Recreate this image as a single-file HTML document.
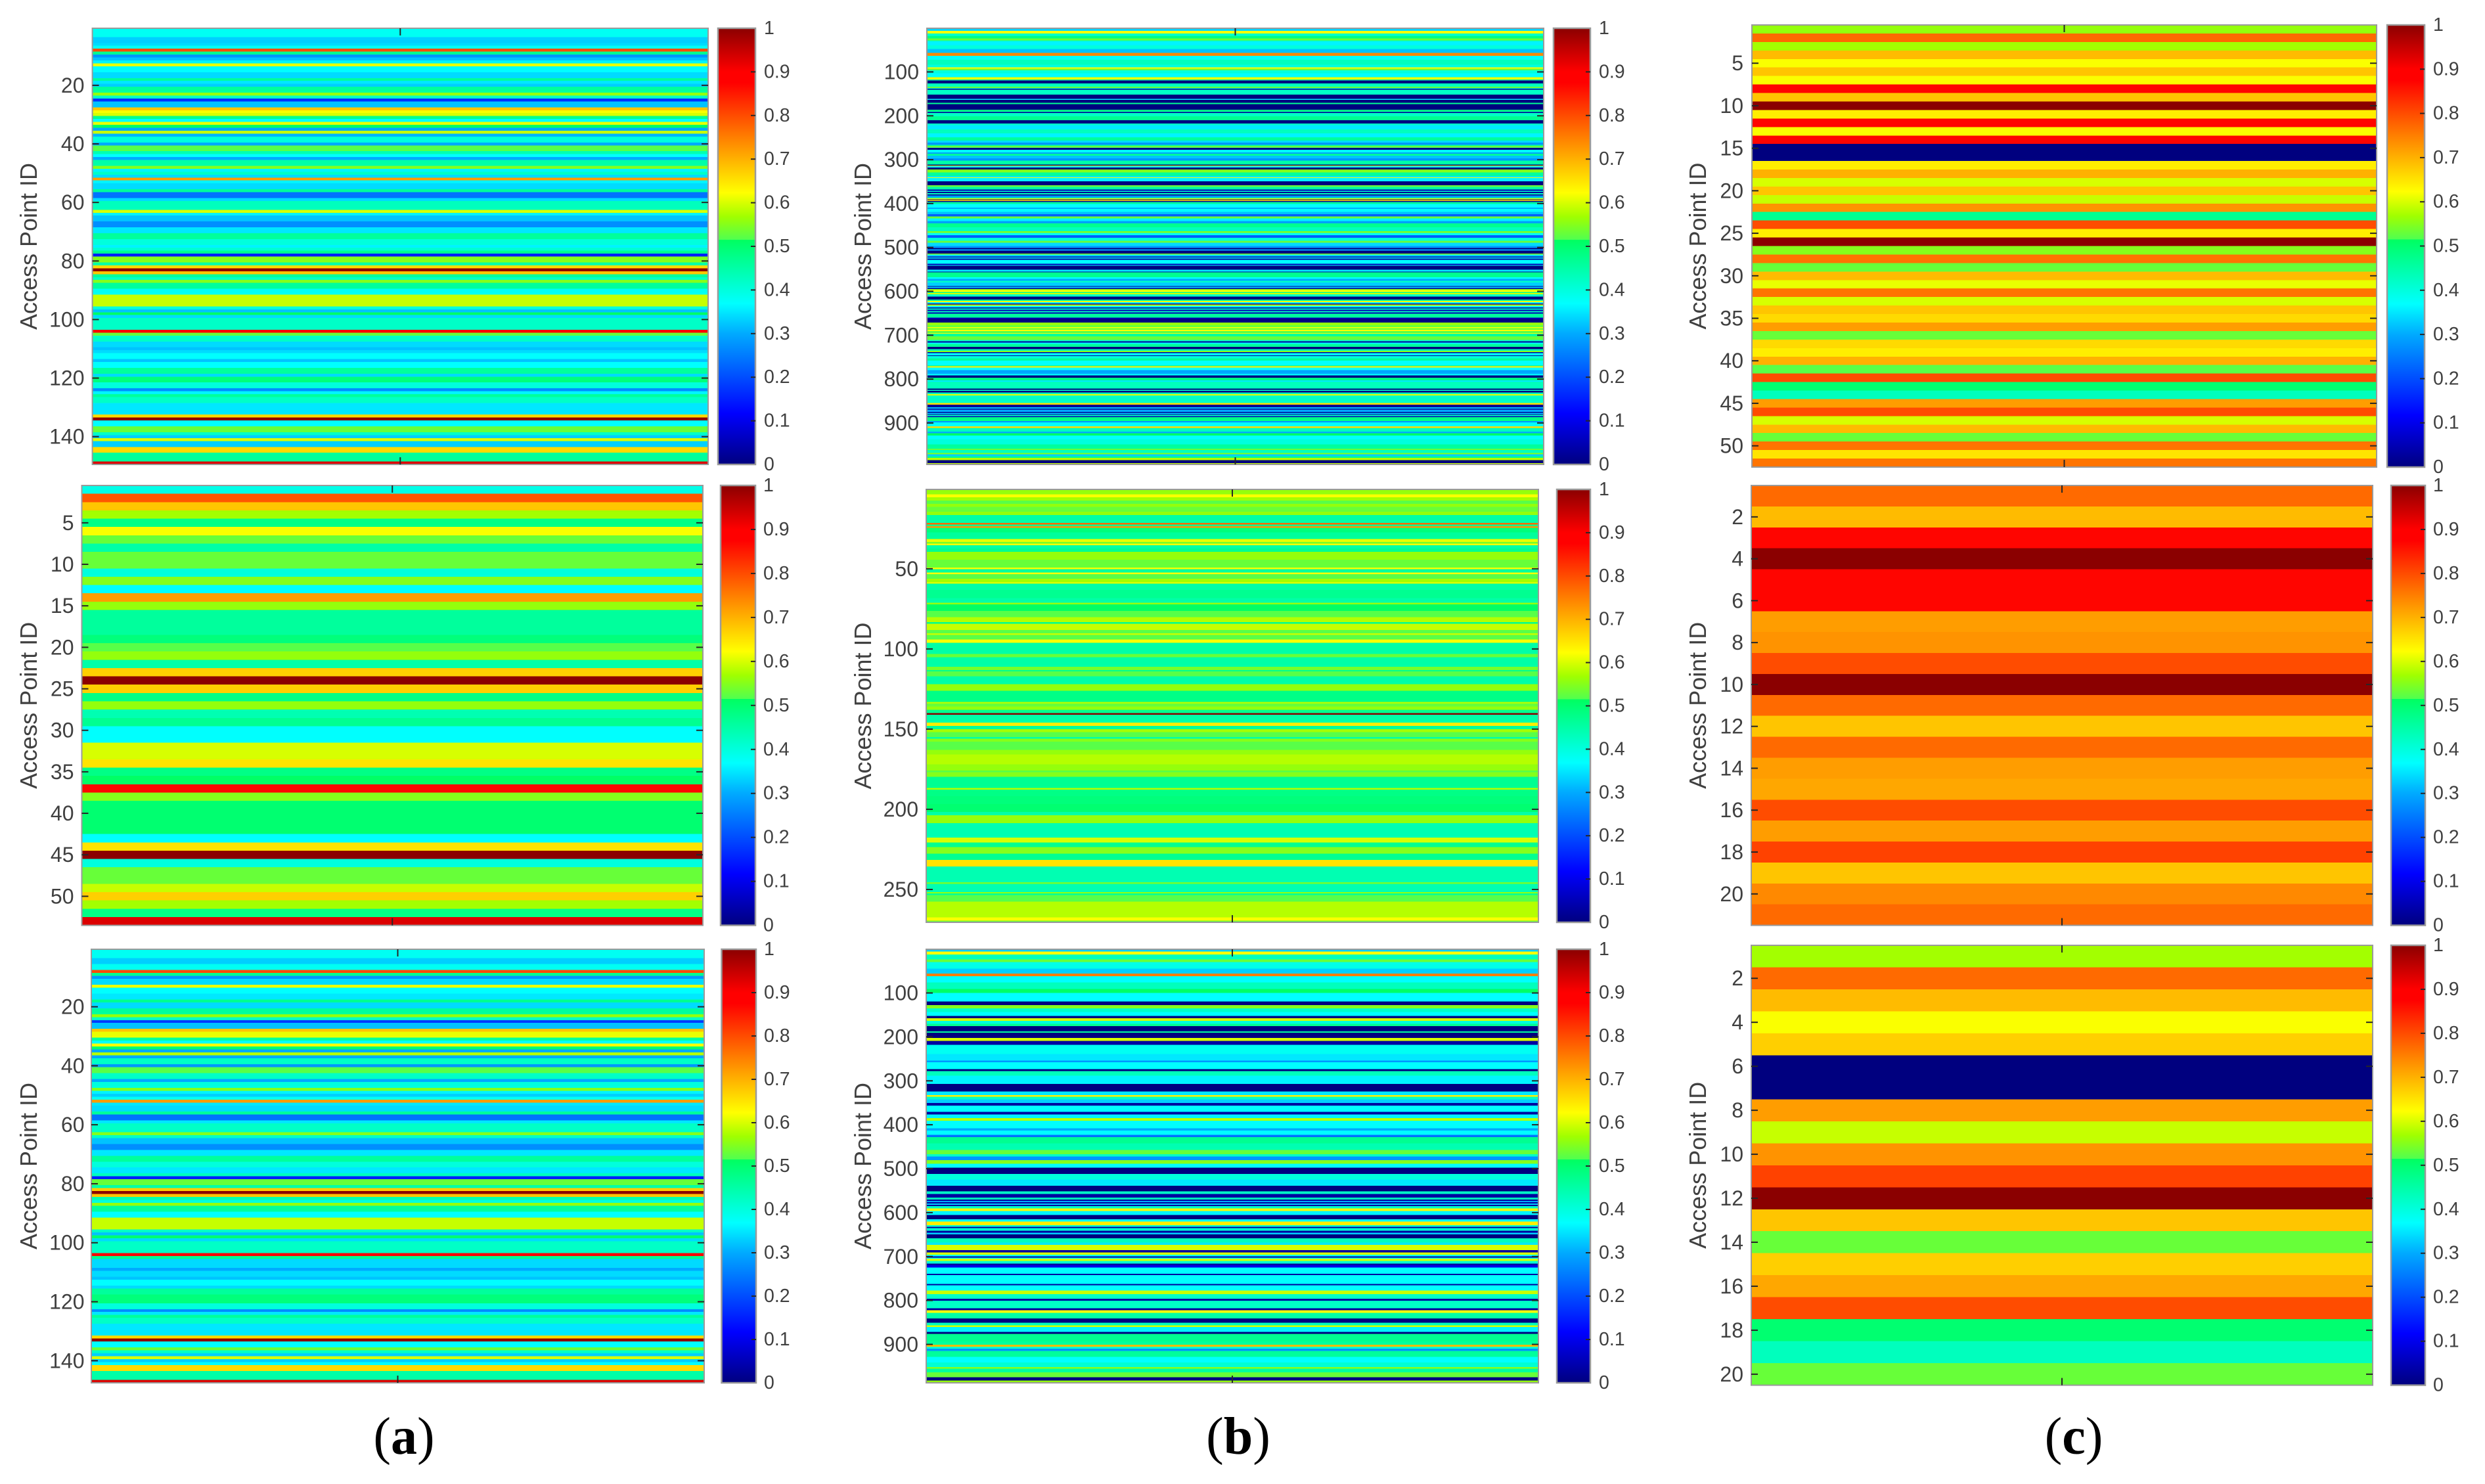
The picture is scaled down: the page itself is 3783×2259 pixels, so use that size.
<!DOCTYPE html>
<html lang="en">
<head>
<meta charset="utf-8">
<title>Access Point ID heatmaps</title>
<style>
html,body{margin:0;padding:0;background:#fff;}
svg{display:block;}
text{font-family:"Liberation Sans",sans-serif;fill:#404040;}
.cap{font-family:"Liberation Serif",serif;font-size:80px;fill:#000;}
</style>
</head>
<body>
<svg id="chart" xmlns="http://www.w3.org/2000/svg" width="3783" height="2259" viewBox="0 0 3783 2259">
<rect width="3783" height="2259" fill="#fff"/>
<text class="cap" x="615" y="2213" text-anchor="middle">(<tspan font-weight="bold">a</tspan>)</text>
<text class="cap" x="1885" y="2213" text-anchor="middle">(<tspan font-weight="bold">b</tspan>)</text>
<text class="cap" x="3157" y="2213" text-anchor="middle">(<tspan font-weight="bold">c</tspan>)</text>
</svg>
<script>
// Colour scale
const scaleValues=[0,.117,.3,.369,.515,.515,.568,.623,.875,.9,1];
const scaleColors=[[0,0,127],[0,0,255],[0,170,255],[0,255,255],[0,255,96],[80,255,80],[160,255,0],[255,255,0],[255,0,0],[255,0,0],[139,0,0]];
const colorbarTicks=[0,.1,.2,.3,.4,.5,.6,.7,.8,.9,1];
const colorbarLabels=['0','0.1','0.2','0.3','0.4','0.5','0.6','0.7','0.8','0.9','1'];

// Row counts of each heatmap
const rowsA1=149,rowsA2=53,rowsA3=147,rowsB1=994,rowsB2=270,rowsB3=987,rowsC1=52,rowsC2=21,rowsC3=20;

// Y tick labels
const ticksA1=[20,40,60,80,100,120,140];
const ticksA2=[5,10,15,20,25,30,35,40,45,50];
const ticksA3=[20,40,60,80,100,120,140];
const ticksB1=[100,200,300,400,500,600,700,800,900];
const ticksB2=[50,100,150,200,250];
const ticksB3=[100,200,300,400,500,600,700,800,900];
const ticksC1=[5,10,15,20,25,30,35,40,45,50];
const ticksC2=[2,4,6,8,10,12,14,16,18,20];
const ticksC3=[2,4,6,8,10,12,14,16,18,20];

// Values: [number of consecutive access points, normalised value]
const valuesA1=[[3,.38],[2,.33],[1,.34],[1,.38],[1,.8],[1,.47],[1,.28],[1,.32],[1,.36],[1,.61],[2,.37],[2,.34],[1,.46],[1,.35],[1,.33],[2,.46],[1,.56],[1,.42],[1,.17],[2,.32],[1,.68],[1,.62],[1,.6],[1,.47],[1,.37],[1,.61],[1,.51],[1,.3],[1,.59],[1,.31],[2,.40],[1,.3],[2,.52],[1,.44],[1,.37],[1,.30],[2,.45],[1,.55],[1,.36],[1,.42],[1,.34],[1,.72],[1,.36],[2,.34],[1,.46],[2,.24],[1,.34],[3,.43],[1,.6],[1,.36],[2,.32],[2,.27],[2,.35],[2,.46],[2,.40],[1,.36],[1,.41],[1,.47],[1,.15],[2,.55],[1,.45],[1,.66],[1,1],[1,.68],[1,.46],[1,.42],[1,.55],[2,.46],[2,.38],[4,.59],[1,.40],[1,.32],[1,.51],[1,.34],[4,.42],[1,.87],[1,.53],[2,.42],[2,.34],[1,.32],[1,.34],[2,.37],[1,.32],[2,.37],[2,.46],[1,.34],[2,.49],[2,.40],[1,.27],[1,.36],[1,.46],[2,.42],[4,.35],[1,.66],[1,1],[2,.37],[2,.53],[1,.42],[1,.33],[1,.6],[2,.33],[2,.66],[3,.46],[1,.93]];

const valuesA2=[[1,.39],[1,.79],[1,.68],[1,.57],[1,.48],[1,.62],[1,.53],[1,.45],[2,.53],[1,.40],[1,.55],[1,.37],[1,.72],[1,.56],[3,.46],[1,.49],[1,.52],[1,.56],[1,.45],[1,.67],[1,1],[1,.67],[1,.48],[1,.56],[1,.44],[1,.47],[2,.37],[2,.6],[1,.65],[1,.48],[1,.51],[1,.87],[1,.55],[4,.5],[1,.37],[1,.65],[1,1],[1,.40],[2,.53],[1,.59],[1,.67],[1,.57],[1,.48],[1,.93]];

const valuesA3=[[3,.38],[2,.33],[2,.38],[1,.8],[1,.47],[1,.28],[2,.34],[1,.61],[2,.37],[2,.35],[1,.47],[2,.34],[2,.46],[1,.56],[1,.42],[1,.18],[2,.32],[1,.68],[2,.61],[1,.46],[1,.37],[1,.62],[1,.5],[1,.30],[1,.58],[1,.3],[2,.42],[1,.28],[2,.52],[2,.42],[1,.3],[2,.4],[1,.55],[1,.36],[1,.33],[1,.38],[1,.72],[1,.35],[2,.34],[1,.46],[2,.24],[1,.35],[3,.42],[1,.55],[1,.42],[2,.32],[2,.27],[2,.35],[2,.46],[2,.40],[2,.35],[1,.43],[1,.15],[2,.53],[1,.45],[1,.67],[1,1],[1,.68],[1,.44],[1,.40],[1,.56],[2,.46],[2,.37],[4,.59],[1,.42],[1,.32],[1,.5],[1,.34],[4,.42],[1,.87],[1,.47],[3,.34],[1,.30],[2,.34],[1,.32],[2,.37],[1,.34],[2,.46],[3,.49],[2,.40],[1,.27],[1,.35],[1,.46],[2,.42],[4,.35],[1,.66],[1,1],[2,.37],[1,.53],[1,.42],[1,.33],[1,.6],[1,.33],[1,.37],[2,.66],[3,.45],[1,.93]];

const valuesB1=[[2,.32],[4,.34],[6,.62],[6,.42],[5,.48],[5,.53],[2,.43],[9,.36],[8,.40],[9,.32],[7,.74],[9,.37],[11,.43],[6,.40],[3,.62],[4,.53],[7,.40],[9,.37],[5,.61],[2,.46],[7,0],[7,.43],[3,.53],[2,.40],[2,.02],[11,.42],[10,0],[2,.35],[7,0],[3,.47],[13,0],[4,.48],[1,.32],[2,0],[8,.42],[9,.47],[7,0],[4,.42],[10,.35],[9,.43],[9,.36],[7,.46],[5,.34],[5,.28],[3,.46],[3,.55],[1,.37],[4,0],[6,.37],[3,.29],[5,.46],[6,.32],[5,.28],[9,.45],[2,0],[2,.6],[3,.37],[4,0],[7,.55],[8,.46],[3,.35],[2,.62],[7,.36],[9,0],[4,.53],[6,.45],[3,.05],[2,.41],[3,.02],[3,.43],[2,0],[5,.28],[2,.46],[2,.63],[2,0],[2,.66],[2,.02],[5,.46],[8,.37],[3,.30],[7,.37],[5,.32],[5,.22],[5,.53],[6,.36],[5,.29],[9,.47],[9,.43],[4,.55],[5,.38],[6,.22],[7,.40],[4,.53],[8,.34],
[4,.28],[3,0],[3,.3],[7,0],[2,.55],[5,.34],[2,.05],[2,.37],[3,.03],[9,.37],[3,.05],[2,.37],[9,0],[4,.35],[2,.03],[11,.47],[4,.37],[4,.3],[4,.42],[8,.33],[2,.02],[3,.32],[2,.02],[2,.55],[5,.62],[2,.47],[3,.6],[5,.42],[7,0],[3,.45],[3,.62],[3,.37],[2,.02],[3,.59],[4,.36],[2,.02],[3,.43],[3,.05],[3,.43],[3,.05],[9,.46],[3,.05],[8,0],[6,.56],[5,.53],[2,.62],[4,.53],[3,.62],[4,.52],[2,.62],[6,.46],[8,.53],[3,.42],[3,.03],[3,.37],[7,.46],[5,0],[4,.43],[3,.55],[2,.03],[5,.37],[2,.02],[5,.40],[5,.46],[11,.37],[2,.45],[3,.64],[6,.37],[3,.29],[5,.3],[4,.36],[5,0],[6,.48],[3,.35],[16,.43],[3,0],[2,.42],[4,0],[4,.43],[3,.61],[17,.42],[4,.66],[6,.02],[3,.32],[2,.02],[5,.3],[2,.02],[3,.32],[2,0],[3,.42],[2,.05],[9,.48],[3,.28],[9,.37],[4,.66],[8,.43],[4,.3],[5,.51],[8,.37],[12,.40],[10,.46],[3,.53],[7,.43],[3,.55],[4,.33],[4,.47],[5,.58],[7,0],[3,.59]];

const valuesB2=[[3,.56],[2,.62],[2,.57],[2,.52],[2,.56],[3,.53],[2,.56],[5,.45],[1,.77],[1,.47],[1,.73],[3,.49],[4,.46],[2,.61],[1,.54],[1,.62],[2,.45],[2,.47],[5,.56],[5,.53],[1,.62],[2,.46],[1,.62],[3,.52],[2,.57],[1,.6],[4,.45],[5,.47],[3,.45],[1,.56],[4,.51],[4,.52],[3,.58],[1,.47],[4,.59],[2,.52],[1,.59],[3,.52],[2,.62],[7,.45],[2,.53],[6,.45],[2,.54],[1,.47],[3,.52],[5,.45],[2,.56],[2,.56],[7,.48],[1,.58],[2,.53],[2,.56],[2,.47],[1,1],[5,.45],[2,.64],[2,.46],[2,.57],[3,.52],[1,.45],[2,.55],[5,.52],[3,.56],[6,.58],[4,.56],[1,.52],[3,.55],[7,.47],[1,.58],[4,.48],[5,.49],[5,.5],[2,.45],[5,.56],[9,.44],[3,.6],[3,.47],[4,.55],[4,.47],[4,.65],[10,.44],[1,.54],[5,.44],[1,.56],[1,.46],[4,.52],[10,.58],[2,.62],[1,.53]];

const valuesB3=[[5,.33],[7,.62],[11,.43],[6,.53],[15,.39],[11,.33],[6,.75],[14,.37],[15,.43],[9,.51],[19,.37],[8,0],[8,.55],[8,.42],[9,.37],[5,0],[6,.6],[7,.4],[5,.47],[12,0],[3,.46],[12,0],[6,.6],[9,.03],[21,.38],[15,.35],[4,.28],[15,.37],[5,0],[10,.43],[19,.36],[17,0],[8,.35],[4,.64],[6,.42],[8,.33],[6,.03],[14,.37],[6,.03],[8,.36],[6,.58],[17,.37],[5,.3],[10,.37],[5,.24],[14,.47],[15,.44],[10,.53],[5,.42],[8,.28],[8,.55],[9,.37],[14,0],[13,.4],[14,.35],[13,0],[6,.42],[8,.03],[4,.43],[3,.03],[3,.3],[3,.03],[3,.33],[3,.03],[5,.42],[6,.63],[9,.36],[10,0],[5,.37],[8,.64],[4,.41],[3,.03],[6,.41],[4,.03],[4,.33],[9,0],[10,.43],[5,.35],[12,.6],[5,.03],[5,.6],[4,.37],[3,.03],[2,.37],[5,.6],[6,.41],[4,.03],[5,.1],[14,.37],[3,.03],[20,.37],[3,.03],[12,.37],[8,.59],[11,.42],[4,.03],[17,.42],[5,.03],[6,.62],[12,.45],[10,0],[6,.43],[4,.6],[11,.36],[4,0],[17,.47],[8,.46],[4,.69],[5,.41],[5,.28],[13,.46],[13,.37],[10,.41],[4,.55],[8,.46],[11,.53],[8,0],[5,.56]];

const valuesC1=[.56,.77,.57,.69,.62,.68,.62,.87,.68,1,.64,.87,.62,.87,0,0,.64,.70,.6,.68,.59,.73,.47,.80,.64,1,.55,.76,.53,.69,.61,.76,.6,.68,.66,.72,.53,.66,.64,.70,.52,.80,.50,.43,.72,.80,.6,.69,.53,.76,.65,.76];
const valuesC2=[.77,.69,.87,1,.87,.87,.72,.73,.80,1,.77,.68,.77,.72,.71,.80,.72,.81,.68,.74,.77];
const valuesC3=[.57,.77,.69,.62,.67,0,0,.72,.59,.73,.81,1,.68,.53,.67,.71,.80,.50,.43,.53];

const NS='http://www.w3.org/2000/svg';
const svg=document.getElementById('chart');

function colorOf(v){
  const t=Math.max(0,Math.min(1,v));
  let i=0;
  while(i<scaleValues.length-2&&t>=scaleValues[i+1])i++;
  const span=scaleValues[i+1]-scaleValues[i];
  const f=span>0?(t-scaleValues[i])/span:0;
  const a=scaleColors[i],b=scaleColors[i+1];
  return 'rgb('+a.map((c,k)=>Math.round(c+(b[k]-c)*f)).join(',')+')';
}
function make(tag,parent,attrs){
  const el=document.createElementNS(NS,tag);
  for(const k in attrs)el.setAttribute(k,attrs[k]);
  parent.appendChild(el);
  return el;
}

// Shared colour bar gradient
const defs=make('defs',svg,{});
const grad=make('linearGradient',defs,{id:'cbGrad',x1:0,y1:1,x2:0,y2:0});
scaleValues.forEach((v,i)=>{
  make('stop',grad,{offset:v,'stop-color':'rgb('+scaleColors[i].join(',')+')'});
});

function drawPanel(p){
  const g=make('g',svg,{});
  
  

  const h=p.bottom-p.top,w=p.right-p.left;
  const xScale=c=>p.left+c*w;
  const yRow=r=>p.top+(r-.5)/p.rows*h;

  // Stripes: normalise the run lengths to the panel's row count
  const runs=p.values.map(v=>Array.isArray(v)?v:[1,v]);
  const total=runs.reduce((s,r)=>s+r[0],0);
  const yEdge=k=>p.top+k/total*h;
  let cum=0;
  runs.forEach(r=>{
    const rect=make('rect',g,{x:xScale(0),y:yEdge(cum),width:xScale(1)-xScale(0),height:yEdge(cum+r[0])-yEdge(cum),fill:colorOf(r[1]),'shape-rendering':'crispEdges'});
    
    
    cum+=r[0];
  });

  // Frame
  const frame=make('rect',g,{x:p.left,y:p.top,width:w,height:h,fill:'none',stroke:'#9a9a9a','stroke-width':2});
  
  

  // Y ticks and labels
  p.ticks.forEach(t=>{
    const y=yRow(t);
    const tl=make('line',g,{x1:p.left,x2:p.left+10,y1:y,y2:y,stroke:'#262626','stroke-width':2});
    
    
    const tr=make('line',g,{x1:p.right-10,x2:p.right,y1:y,y2:y,stroke:'#262626','stroke-width':2});
    
    
    const lab=make('text',g,{x:p.labelRight,y:y,'text-anchor':'end','dominant-baseline':'central','font-size':32});
    lab.textContent=String(t);
    
    
  });

  // Centre x ticks
  const cx=(p.left+p.right)/2;
  const xt=make('line',g,{x1:cx,x2:cx,y1:p.top,y2:p.top+11,stroke:'#262626','stroke-width':2});
  
  
  const xb=make('line',g,{x1:cx,x2:cx,y1:p.bottom-11,y2:p.bottom,stroke:'#262626','stroke-width':2});
  
  

  // Axis title
  const cy=(p.top+p.bottom)/2;
  const title=make('text',g,{transform:'translate('+p.titleX+' '+cy+') rotate(-90)','text-anchor':'middle','font-size':36});
  title.textContent='Access Point ID';
  
  

  // Colour bar
  const bar=make('rect',g,{x:p.cbLeft,y:p.top,width:p.cbRight-p.cbLeft,height:h,fill:'url(#cbGrad)',stroke:'#9a9a9a','stroke-width':2.5});
  
  
  const yBar=v=>p.bottom-v*h;
  colorbarTicks.forEach((v,i)=>{
    if(v>0&&v<1){
      const ct=make('line',g,{x1:p.cbRight-7,x2:p.cbRight,y1:yBar(v),y2:yBar(v),stroke:'#262626','stroke-width':2});
      
      
    }
    const cl=make('text',g,{x:p.cbLabel,y:yBar(v),'dominant-baseline':'central','font-size':28.5});
    cl.textContent=colorbarLabels[i];
    
    
  });
}

const panels=[
 {id:'a1',values:valuesA1,rows:rowsA1,ticks:ticksA1,left:140.6,right:1078,top:43,bottom:707,cbLeft:1093,cbRight:1150,cbLabel:1163,labelRight:128.5,titleX:56},
 {id:'a2',values:valuesA2,rows:rowsA2,ticks:ticksA2,left:124.5,right:1070,top:739,bottom:1408.6,cbLeft:1097,cbRight:1150,cbLabel:1162,labelRight:112.5,titleX:56},
 {id:'a3',values:valuesA3,rows:rowsA3,ticks:ticksA3,left:139,right:1072,top:1445,bottom:2105,cbLeft:1098.5,cbRight:1151,cbLabel:1163,labelRight:128.5,titleX:56},
 {id:'b1',values:valuesB1,rows:rowsB1,ticks:ticksB1,left:1411,right:2350,top:43,bottom:707,cbLeft:2365,cbRight:2421,cbLabel:2434,labelRight:1399,titleX:1326},
 {id:'b2',values:valuesB2,rows:rowsB2,ticks:ticksB2,left:1410,right:2342,top:745,bottom:1404,cbLeft:2370,cbRight:2421,cbLabel:2434,labelRight:1398,titleX:1326},
 {id:'b3',values:valuesB3,rows:rowsB3,ticks:ticksB3,left:1410,right:2342,top:1445,bottom:2105,cbLeft:2370,cbRight:2421,cbLabel:2434,labelRight:1398,titleX:1326},
 {id:'c1',values:valuesC1,rows:rowsC1,ticks:ticksC1,left:2667,right:3618,top:38,bottom:711,cbLeft:3634,cbRight:3691,cbLabel:3704,labelRight:2654,titleX:2597},
 {id:'c2',values:valuesC2,rows:rowsC2,ticks:ticksC2,left:2666,right:3612,top:739,bottom:1408.6,cbLeft:3640,cbRight:3692,cbLabel:3704,labelRight:2654,titleX:2597},
 {id:'c3',values:valuesC3,rows:rowsC3,ticks:ticksC3,left:2666,right:3612,top:1439,bottom:2108.6,cbLeft:3640,cbRight:3692,cbLabel:3704,labelRight:2654,titleX:2597}
];
panels.forEach(drawPanel);
</script>
</body>
</html>
